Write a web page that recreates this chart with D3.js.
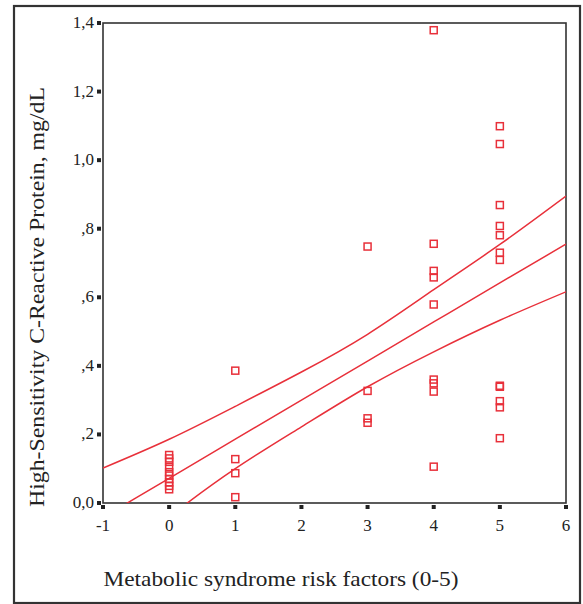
<!DOCTYPE html>
<html>
<head>
<meta charset="utf-8">
<script src="https://cdn.jsdelivr.net/npm/d3@7"></script>
<style>
  body { margin: 0; background: #fff; }
  text { font-family: "Liberation Serif", "Times New Roman", serif; fill: #222; }
</style>
</head>
<body>
<div class="container"></div>
<script>
// risk factor count per patient, with hs-CRP (mg/dL)
const riskFactors = [
  0, 0, 0, 0, 0, 0, 0, 0, 0, 0,
  1, 1, 1, 1,
  3, 3, 3, 3,
  4, 4, 4, 4, 4, 4, 4, 4, 4,
  5, 5, 5, 5, 5, 5, 5, 5, 5, 5, 5, 5
];
const crp = [
  0.14, 0.13, 0.12, 0.105, 0.09, 0.08, 0.07, 0.06, 0.05, 0.04,
  0.386, 0.128, 0.087, 0.017,
  0.748, 0.327, 0.247, 0.234,
  1.379, 0.756, 0.677, 0.658, 0.579, 0.36, 0.349, 0.325, 0.106,
  1.099, 1.047, 0.869, 0.808, 0.781, 0.73, 0.709, 0.342, 0.339, 0.297, 0.279, 0.189
];

// fit line + confidence band
const bandX = [-1, 0, 1, 2, 3, 4, 5, 6];
const fitY = [-0.042, 0.072, 0.186, 0.30, 0.414, 0.528, 0.642, 0.755];
const upperY = [0.102, 0.186, 0.282, 0.382, 0.492, 0.622, 0.754, 0.895];
const lowerY = [-0.19, -0.04, 0.10, 0.222, 0.339, 0.441, 0.533, 0.616];

const xTicks = [-1, 0, 1, 2, 3, 4, 5, 6];
const yTicks = [0, 0.2, 0.4, 0.6, 0.8, 1.0, 1.2, 1.4];
const yTickLabels = ["0,0", ",2", ",4", ",6", ",8", "1,0", "1,2", "1,4"];

const xTitle = "Metabolic syndrome risk factors (0-5)";
const yTitle = "High-Sensitivity C-Reactive Protein, mg/dL";

const width = 583, height = 604;
const plot = { left: 103, top: 23, right: 566, bottom: 503 };
const red = "#e8303a";

const svg = d3.select(".container").append("svg")
  .attr("width", width).attr("height", height);

// outer frame
svg.append("rect")
  .attr("x", 14).attr("y", 6).attr("width", 566).attr("height", 597)
  .attr("fill", "none").attr("stroke", "#333").attr("stroke-width", 2.2);

const x = d3.scaleLinear().domain([-1, 6]).range([plot.left, plot.right]);
const y = d3.scaleLinear().domain([0, 1.4]).range([plot.bottom, plot.top]);

svg.append("defs").append("clipPath").attr("id", "clip")
  .append("rect")
  .attr("x", plot.left).attr("y", plot.top)
  .attr("width", plot.right - plot.left).attr("height", plot.bottom - plot.top);

// plot box
svg.append("rect")
  .attr("x", plot.left).attr("y", plot.top)
  .attr("width", plot.right - plot.left).attr("height", plot.bottom - plot.top)
  .attr("fill", "none").attr("stroke", "#333").attr("stroke-width", 1.6);

// x ticks (little squares) + labels
const xt = svg.append("g").attr("class", "x-ticks");
xt.selectAll("rect").data(xTicks).enter().append("rect")
  .attr("x", d => x(d) - 2).attr("y", plot.bottom + 2)
  .attr("width", 4).attr("height", 4).attr("fill", "#222");
xt.selectAll("text").data(xTicks).enter().append("text")
  .attr("x", d => x(d)).attr("y", plot.bottom + 28)
  .attr("text-anchor", "middle").attr("font-size", 17)
  .text(d => d);

// y ticks + labels
const yt = svg.append("g").attr("class", "y-ticks");
yt.selectAll("rect").data(yTicks).enter().append("rect")
  .attr("x", plot.left - 6).attr("y", d => y(d) - 2)
  .attr("width", 4).attr("height", 4).attr("fill", "#222");
yt.selectAll("text").data(yTicks).enter().append("text")
  .attr("x", plot.left - 9).attr("y", d => y(d) + 5)
  .attr("text-anchor", "end").attr("font-size", 17)
  .text((d, i) => yTickLabels[i]);

// axis titles
svg.append("text")
  .attr("x", 281).attr("y", 586)
  .attr("text-anchor", "middle").attr("font-size", 22)
  .attr("textLength", 355).attr("lengthAdjust", "spacingAndGlyphs")
  .text(xTitle);

svg.append("text")
  .attr("transform", "translate(44,297) rotate(-90)")
  .attr("text-anchor", "middle").attr("font-size", 22)
  .attr("textLength", 420).attr("lengthAdjust", "spacingAndGlyphs")
  .text(yTitle);

// regression line and band
const lines = svg.append("g").attr("clip-path", "url(#clip)");
const line = d3.line().x(d => x(d[0])).y(d => y(d[1])).curve(d3.curveNatural);
[fitY, upperY, lowerY].forEach(vals => {
  lines.append("path")
    .datum(bandX.map((v, i) => [v, vals[i]]))
    .attr("d", line)
    .attr("fill", "none").attr("stroke", red).attr("stroke-width", 1.5);
});

// points
svg.append("g").selectAll("rect").data(crp).enter().append("rect")
  .attr("x", (d, i) => x(riskFactors[i]) - 3.5)
  .attr("y", d => y(d) - 3.5)
  .attr("width", 7).attr("height", 7)
  .attr("fill", "none").attr("stroke", red).attr("stroke-width", 1.5);
</script>
</body>
</html>
